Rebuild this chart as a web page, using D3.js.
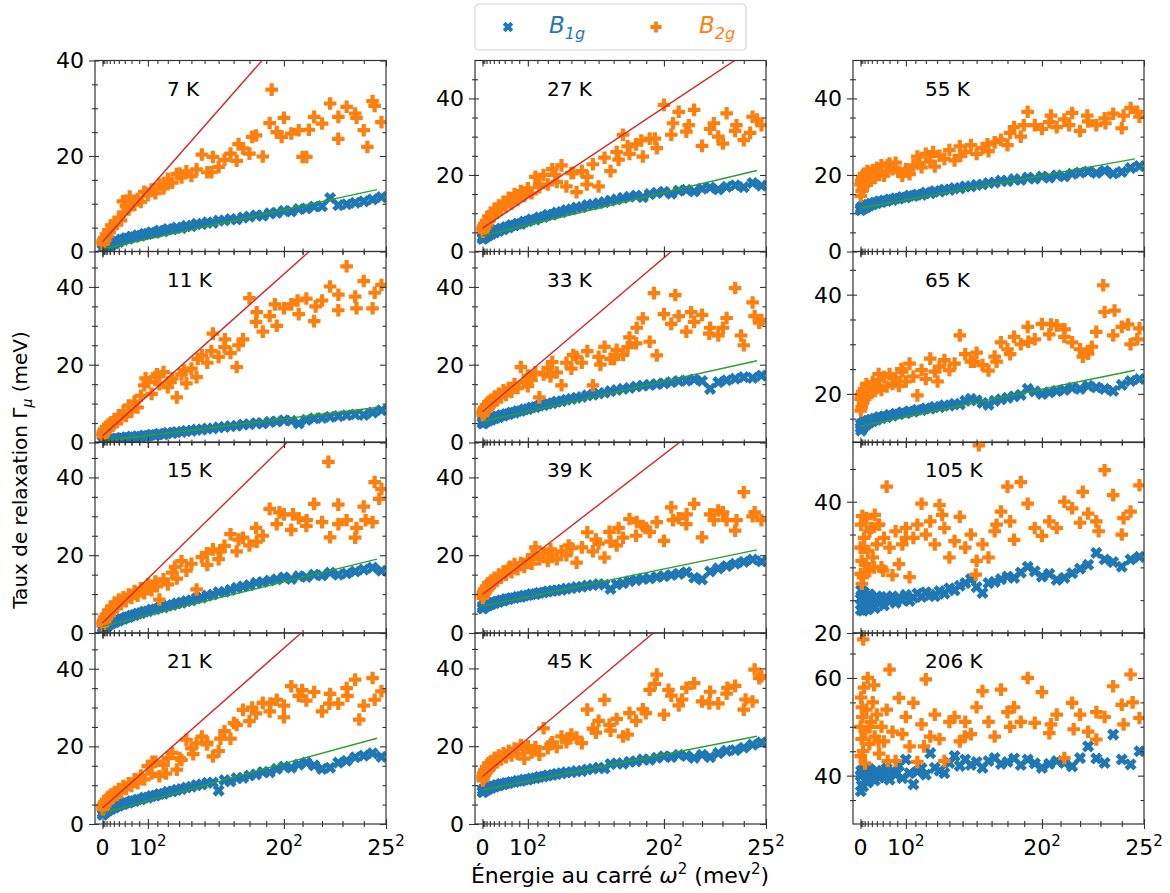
<!DOCTYPE html>
<html><head><meta charset="utf-8">
<script src="https://cdn.jsdelivr.net/npm/d3@7"></script>
<style>body{margin:0;background:#fff}svg{font-family:"DejaVu Sans",sans-serif}</style>
</head><body>
<svg id="chart" width="1170" height="893"></svg>
<script>
// ---------------- DATA ----------------
const omega2 = [0.2,0.6,1.4,2.6,4,5.8,7.8,10.2,13,16,19.4,23,27,31.4,36,41,46.2,51.8,57.8,64,70.6,77.4,84.6,92.2,100,108.2,116.6,125.4,134.6,144,153.8,163.8,174.2,185,196,207.4,219,231,243.4,256,269,282.2,295.8,309.8,324,338.6,353.4,368.6,384.2,400,416.2,432.6,449.4,466.6,484,501.8,519.8,538.2,557,576,595.4,615];

const panelLabels = ["7 K","11 K","15 K","21 K","27 K","33 K","39 K","45 K","55 K","65 K","105 K","206 K"];

const b1g07 = [0.4,0.6,0.3,0.8,0.5,1.0,0.8,1.3,1.1,1.5,1.3,1.8,1.7,2.1,2.0,2.5,2.4,2.8,2.7,3.1,3.0,3.4,3.3,3.7,3.7,4.0,3.9,4.4,4.2,4.7,4.6,5.0,4.9,5.4,5.3,5.8,5.7,6.1,6.0,6.5,6.5,6.8,6.7,7.1,7.3,7.6,7.5,8.0,8.1,8.5,8.4,8.9,9.0,9.4,9.5,11.2,9.7,9.9,10.2,10.5,10.9,11.4];
const b2g07 = [2.0,1.6,2.4,1.8,2.8,2.4,3.6,3.2,4.5,4.0,5.5,5.0,6.2,5.8,7.0,6.5,8.2,9.5,8.8,10.5,9.8,11.0,10.4,12.5,11.8,13.0,12.2,14.0,13.2,15.2,14.4,16.2,15.5,16.8,15.8,17.2,20.3,16.6,19.8,17.7,19.2,20.5,19.0,21.6,20.5,24.3,19.9,26.9,25.0,28.0,24.7,25.4,19.8,28.2,26.8,31.0,23.6,30.3,28.9,25.4,31.5,27.1];
const b2gExtra07 = [[373,33.9],[584,21.9],[441,19.8],[300,22.5],[330,24.0],[395,24.0],[455,25.5],[520,28.2],[560,28.0],[600,30.5],[240,16.6],[170,16.3],[135,13.8],[45,10.5],[60,11.5]];

const b1g11 = [0.3,0.6,0.2,0.5,0.3,0.6,0.4,0.7,0.5,0.8,0.6,0.9,0.8,1.0,0.9,1.2,1.0,1.3,1.2,1.5,1.3,1.6,1.5,1.8,1.7,2.0,1.9,2.2,2.1,2.5,2.4,2.7,2.7,3.0,3.0,3.3,3.3,3.6,3.6,3.9,4.0,4.2,4.3,4.6,4.7,5.0,4.9,5.3,5.4,5.7,5.6,4.9,5.8,6.2,6.3,6.6,6.8,7.0,7.2,7.1,7.7,8.3];
const b2g11 = [2.2,1.6,2.8,2.0,3.4,2.6,4.0,3.2,4.6,3.8,5.2,4.4,6.0,5.2,7.0,6.0,8.0,6.8,9.5,8.0,10.5,9.0,12.0,14.7,15.5,12.5,16.8,15.0,18.1,14.2,16.5,11.6,17.5,15.2,19.0,16.8,22.4,20.5,28.0,22.0,24.5,23.0,19.4,26.5,37.1,31.0,28.5,32.5,30.0,34.5,35.5,33.0,37.0,31.2,36.5,40.1,34.0,45.3,37.5,41.5,34.5,40.5];
const b2gExtra11 = [[95,16.5],[120,17.5],[150,15.5],[180,18.5],[210,21.5],[240,23.5],[270,26.5],[300,25],[340,33.5],[380,35.5],[430,36.5],[470,35],[520,38],[560,34.5],[600,38.5]];

const b1g15 = [0.9,1.5,1.0,1.6,1.2,1.9,1.6,2.2,2.0,2.5,2.4,2.9,2.8,3.2,3.2,3.6,3.6,4.0,4.1,4.5,4.6,5.0,5.1,5.5,5.6,6.0,6.1,6.5,6.6,7.0,7.2,7.6,7.8,8.2,8.4,8.9,9.1,9.6,9.9,10.5,10.6,11.1,11.6,12.0,12.3,12.9,13.1,13.5,13.8,14.3,13.9,14.6,14.4,15.0,14.8,15.5,15.0,15.3,15.8,16.3,16.8,16.0];
const b2g15 = [2.6,2.0,3.2,2.4,4.0,3.0,4.8,3.8,5.8,4.6,6.8,5.6,7.8,6.6,8.6,7.4,9.2,8.2,9.9,9.0,10.8,9.6,11.5,10.2,12.5,11.0,13.2,8.6,13.8,12.5,15.5,14.0,18.5,16.0,17.8,11.2,19.5,17.5,21.5,19.0,22.4,25.4,21.0,24.5,22.5,27.0,25.0,31.9,28.0,30.5,26.5,29.5,27.5,33.2,28.5,24.6,33.0,29.0,24.5,32.5,28.5,37.0];
const b2gExtra15 = [[498,44.0],[600,38.8],[610,34.5],[120,12],[160,17],[230,20.5],[260,21],[300,24],[340,23.5],[390,31],[420,30.5],[450,29],[520,28],[560,27],[580,29]];

const b1g21 = [2.4,2.9,2.5,3.1,2.8,3.4,3.1,3.7,3.5,4.0,3.9,4.4,4.3,4.7,4.7,5.1,5.1,5.5,5.5,5.9,5.9,6.3,6.3,6.8,6.8,7.2,7.3,7.7,7.8,8.3,8.4,8.8,9.0,9.4,9.6,10.0,10.2,10.6,10.7,8.6,11.3,11.0,11.8,11.9,12.5,12.8,13.4,13.3,14.2,14.8,14.5,15.3,15.8,15.1,14.2,14.5,15.8,16.3,17.2,17.6,18.2,17.3];
const b2g21 = [4.5,3.8,5.0,4.2,5.6,4.8,6.2,5.5,7.0,6.2,7.6,6.8,8.2,7.5,9.0,8.2,9.8,9.0,10.5,9.8,11.5,10.5,12.5,11.5,14.9,13.0,16.0,12.3,15.2,17.0,18.3,14.0,16.5,21.7,19.5,20.8,22.5,21.0,17.4,18.8,23.9,22.0,25.5,29.4,26.5,28.5,31.2,29.0,32.0,30.5,35.5,33.0,31.8,34.0,29.0,33.5,31.0,35.0,37.2,30.5,37.6,34.2];
const b2gExtra21 = [[566,26.9],[110,16],[140,13],[170,17],[200,18],[230,20.5],[260,22],[290,26],[330,30],[370,31],[400,27.5],[440,34.5],[500,31],[540,33],[600,32]];

const b1g27 = [3.3,3.8,3.4,4.0,3.6,4.2,3.9,4.5,4.2,4.8,4.6,5.2,5.0,5.6,5.4,6.0,5.8,6.4,6.3,6.9,6.8,7.3,7.2,7.8,7.9,8.4,8.3,8.9,9.0,9.6,9.6,10.2,10.3,10.8,11.0,11.5,11.6,12.1,12.3,12.6,12.9,13.3,13.6,14.0,14.3,14.6,14.2,15.0,15.3,15.6,15.1,15.9,16.1,15.7,16.4,16.7,16.2,16.9,17.3,16.8,17.9,17.2];
const b2g27 = [6.0,5.2,6.6,5.6,7.2,6.2,8.0,7.0,9.2,8.2,10.0,9.0,11.2,10.2,12.0,11.0,13.0,11.8,14.0,12.5,15.0,13.5,15.8,14.5,16.5,15.2,19.5,16.8,20.0,17.5,21.5,18.2,22.5,17.0,20.5,15.5,21.0,19.5,22.8,17.0,24.5,21.0,26.0,30.5,25.5,28.0,24.8,29.5,27.0,38.3,30.5,36.5,31.3,37.0,27.6,32.0,30.0,36.1,31.5,29.1,35.2,33.0];
const b2gExtra27 = [[300,24],[320,27.5],[350,29],[380,29.5],[420,33.5],[455,33],[510,33.5],[530,28.2],[560,33],[590,31],[605,34.5],[200,20.5],[230,17.5],[160,20],[125,17.5]];

const b1g33 = [4.9,5.5,5.0,5.6,5.1,5.7,5.4,5.9,5.6,6.1,5.9,6.4,6.2,6.7,6.5,7.0,6.9,7.3,7.3,7.7,7.7,8.1,8.1,8.5,8.6,9.0,9.1,9.5,9.6,10.0,10.1,10.5,10.6,11.0,11.2,11.5,11.7,12.1,12.3,12.6,12.8,13.2,13.5,13.8,14.0,14.4,14.6,14.8,15.0,15.2,15.5,15.8,15.9,16.2,15.8,13.8,15.5,16.0,16.4,16.8,16.6,17.2];
const b2g33 = [7.8,7.0,8.4,7.4,9.0,8.0,9.6,8.6,10.4,9.4,11.0,10.0,11.8,10.8,12.5,11.6,13.4,12.2,14.0,13.0,15.0,14.0,19.4,15.5,17.2,16.0,18.0,11.6,17.5,19.2,20.7,18.0,14.7,20.5,19.0,22.0,20.5,23.5,14.7,22.0,24.6,21.5,23.8,22.5,27.0,25.5,31.9,25.9,22.4,33.0,30.5,32.5,28.5,31.0,32.8,29.5,27.5,32.0,39.7,25.0,36.0,31.5];
const b2gExtra33 = [[378,38.4],[425,37.9],[600,32.5],[610,30.8],[100,14.5],[150,17],[200,22.5],[260,20],[290,21.5],[320,24.5],[340,29.5],[460,33.5],[500,28],[530,29.5],[570,27.5]];

const b1g39 = [6.3,6.9,6.4,7.0,6.6,7.2,6.9,7.4,7.1,7.6,7.4,7.8,7.7,8.1,8.0,8.4,8.3,8.7,8.7,9.0,9.0,9.3,9.3,9.6,9.7,10.0,10.0,10.3,10.4,10.7,10.8,11.0,11.1,11.4,11.5,11.8,11.9,12.2,12.3,12.6,12.4,11.3,12.5,12.8,13.3,13.6,13.9,14.0,14.4,14.6,14.9,15.2,15.6,14.2,13.8,15.8,16.6,17.2,17.8,18.3,18.9,18.4];
const b2g39 = [9.9,9.0,10.6,9.6,11.2,10.2,12.0,11.0,12.8,11.8,13.5,12.6,14.2,13.4,15.0,14.2,15.8,15.0,16.5,15.6,17.7,16.4,18.0,17.0,18.8,17.8,22.0,19.0,20.5,18.5,20.2,19.0,21.0,20.0,21.8,18.1,22.0,25.9,21.0,23.0,19.4,23.5,22.5,24.5,29.3,25.0,27.5,26.0,28.5,23.7,32.3,29.5,28.0,33.2,24.6,30.5,31.5,29.0,26.3,36.2,30.0,29.0];
const b2gExtra39 = [[60,17],[110,20],[150,21.5],[190,22.5],[250,24],[280,26],[300,27],[340,28.5],[360,27],[420,29],[450,30.5],[510,29],[530,31],[560,29],[600,31]];

const b1g45 = [8.2,8.8,8.3,8.9,8.5,9.1,8.7,9.3,9.0,9.5,9.3,9.7,9.6,10.0,9.9,10.3,10.2,10.5,10.5,10.8,10.8,11.1,11.1,11.4,11.4,11.7,11.8,12.1,12.2,12.5,12.6,12.9,13.0,13.3,13.3,13.6,13.6,14.0,14.2,14.5,14.3,15.4,15.6,15.5,16.0,16.1,16.6,16.5,17.0,17.4,17.2,17.8,17.5,17.0,17.8,17.2,18.2,18.8,19.0,19.6,20.4,21.0];
const b2g45 = [12.2,11.2,13.0,11.8,13.8,12.6,14.6,13.4,15.6,14.2,16.2,15.0,17.0,15.8,17.6,16.6,18.2,17.2,18.8,17.6,19.4,18.0,20.3,16.8,20.0,18.4,19.8,17.8,24.6,19.5,21.0,19.8,22.5,21.0,23.0,22.2,20.8,29.4,24.5,26.5,31.9,24.0,27.0,22.5,28.5,26.5,29.5,34.5,38.4,28.1,33.0,30.5,35.0,36.2,31.5,34.0,31.0,33.5,35.5,29.4,31.5,38.0];
const b2gExtra45 = [[600,39.7],[610,37.5],[90,19.5],[150,20.5],[190,22],[250,23.5],[280,25.5],[320,23],[360,28.5],[380,36],[410,34.5],[440,32],[500,31],[540,35],[580,32]];

const b1g55 = [10.8,11.4,10.9,11.6,11.1,11.8,11.3,12.0,11.6,12.2,12.0,12.5,12.3,12.8,12.6,13.1,12.9,13.3,13.2,13.6,13.5,13.9,13.8,14.2,14.1,14.6,14.5,14.9,14.8,15.4,15.2,15.8,15.6,16.2,16.1,16.6,16.5,17.0,17.0,17.4,17.5,17.9,18.0,18.5,18.4,18.9,18.7,19.3,19.0,19.6,19.3,19.9,19.6,20.3,20.6,20.9,20.5,21.1,20.4,20.8,21.8,22.3];
const b2g55 = [17.5,14.5,18.5,15.8,19.5,16.8,20.3,17.5,19.0,18.2,20.5,18.5,21.2,19.2,21.8,20.0,22.5,19.8,21.0,23.0,21.5,23.2,20.8,19.8,21.5,20.2,22.5,24.8,22.0,25.5,23.5,22.2,25.0,24.2,26.5,23.8,27.5,26.0,27.8,25.5,27.0,26.2,28.5,29.2,27.8,32.5,30.0,36.5,33.0,32.0,33.8,32.5,34.5,36.2,31.5,34.0,33.0,34.8,36.0,32.2,37.5,35.2];
const b2gExtra55 = [[5,16],[15,21],[60,22.5],[130,23],[160,26],[220,25],[280,28],[330,31],[360,33],[420,35.5],[460,33],[500,35.5],[540,33.5],[580,35.5],[610,36.5]];

const b1g65 = [13.2,13.9,12.6,13.8,13.0,14.2,13.5,14.3,13.8,14.6,14.2,14.8,14.5,15.0,14.8,15.3,15.1,15.5,15.3,15.8,15.6,16.0,15.9,16.3,16.1,16.5,16.4,16.8,16.7,17.1,17.0,17.4,17.3,17.7,17.6,18.0,17.9,18.6,19.0,18.7,18.2,17.8,18.6,18.9,19.2,19.5,19.8,21.0,20.5,20.0,20.3,20.6,20.8,21.2,21.0,21.6,21.3,21.0,20.6,21.8,22.6,23.0];
const b2g65 = [19.0,16.6,19.8,17.4,20.4,18.2,21.0,19.0,22.0,19.6,21.5,20.2,22.4,20.6,21.2,22.8,20.8,23.4,21.5,24.0,22.0,23.2,21.6,24.5,22.5,26.1,23.5,19.7,24.8,23.0,27.1,24.5,25.5,26.8,24.8,26.1,31.8,28.0,26.5,28.3,25.8,24.7,27.5,30.4,29.0,31.5,30.0,33.5,31.0,34.1,32.0,33.8,31.5,30.4,29.0,28.1,32.5,36.5,31.8,33.5,30.0,33.2];
const b2gExtra65 = [[535,41.9],[560,36.8],[40,24],[90,25],[170,22.5],[250,26.5],[300,26.5],[330,28],[370,30.5],[420,34],[450,33],[490,27.5],[510,29.5],[590,34],[610,31]];

const b1g105 = [25.2,23.5,26.5,24.2,25.8,23.4,26.2,24.5,25.5,23.6,25.9,24.4,25.2,23.8,25.6,24.6,25.3,24.2,25.5,24.8,25.6,24.6,25.4,25.0,25.8,24.9,25.4,26.0,25.5,26.2,25.8,25.6,26.4,26.0,26.8,26.5,27.2,27.6,28.2,27.0,26.1,27.6,27.8,28.2,28.6,28.4,29.2,30.1,29.4,28.6,29.0,28.1,28.4,29.1,29.8,30.4,32.2,31.2,30.8,30.1,31.2,31.6];
const b2g105 = [33.0,29.0,36.5,31.0,37.8,28.5,34.5,30.5,37.5,32.5,29.5,36.0,31.5,38.0,33.5,36.5,30.0,34.5,42.3,33.0,28.8,35.5,30.5,33.5,36.0,28.5,34.5,36.5,39.7,35.0,37.0,33.5,39.5,36.0,31.5,34.0,37.7,33.0,35.0,31.0,33.5,31.5,35.5,38.5,42.3,34.2,43.0,39.7,36.0,34.8,37.0,36.0,40.0,39.0,36.8,38.2,37.0,44.8,41.0,35.0,38.5,42.5];
const b2gExtra105 = [[261,48.6],[254,28.9],[3,27.5],[20,35.5],[50,29.5],[100,34.5],[180,38.0],[330,37.0],[490,41.5],[525,35.5],[580,37.5],[8,33],[30,30],[40,36.5],[300,36.5]];

const b1g206 = [40.0,36.8,41.0,38.0,40.5,37.8,41.2,39.0,40.2,38.6,41.4,39.4,40.6,39.0,41.0,39.6,40.9,39.8,41.5,39.2,41.0,40.2,42.0,39.5,43.3,40.5,38.2,40.8,41.5,40.2,44.6,41.6,41.0,40.5,42.6,44.0,42.0,43.3,42.2,42.8,41.6,43.0,43.6,42.4,42.8,43.5,42.2,43.3,42.5,41.6,42.4,43.0,42.6,41.9,43.6,46.0,43.5,42.6,48.4,43.3,42.3,45.0];
const b2g206 = [50.0,44.0,56.0,47.5,52.0,45.0,58.0,49.0,53.5,60.0,46.5,51.0,55.0,48.0,52.5,44.5,50.0,47.0,53.5,61.7,49.0,43.0,55.9,48.5,52.0,46.0,54.9,42.8,50.5,59.7,48.0,52.5,47.5,43.0,51.0,52.0,47.0,51.0,48.5,54.0,57.3,51.0,48.0,57.6,53.0,54.0,51.0,60.0,50.8,57.1,48.7,52.5,43.6,54.9,52.5,49.0,47.4,52.0,58.3,54.5,60.7,51.8];
const b2gExtra206 = [[6,67.9],[30,58.5],[10,42.5],[60,43.0],[3,54],[20,50],[40,47],[140,46],[230,48],[330,50],[420,50.5],[470,49.5],[520,53],[580,50.5],[600,55]];

const b1gSeries = [b1g07,b1g11,b1g15,b1g21,b1g27,b1g33,b1g39,b1g45,b1g55,b1g65,b1g105,b1g206];
const b2gSeries = [b2g07,b2g11,b2g15,b2g21,b2g27,b2g33,b2g39,b2g45,b2g55,b2g65,b2g105,b2g206];
const b2gExtras = [b2gExtra07,b2gExtra11,b2gExtra15,b2gExtra21,b2gExtra27,b2gExtra33,b2gExtra39,b2gExtra45,b2gExtra55,b2gExtra65,b2gExtra105,b2gExtra206];

// linear fits  Gamma = a + b * omega^2
const redIntercept = [2.0,1.7,2.6,4.1,6.1,7.9,9.9,12.2,null,null,null,null];
const redSlope     = [0.108,0.104,0.114,0.103,0.0788,0.099,0.090,0.098,null,null,null,null];
const greenIntercept = [0.55,0.4,1.7,2.8,4.1,5.4,6.9,8.75,11.35,13.5,null,null];
const greenSlope     = [0.0205,0.0142,0.0286,0.0319,0.0282,0.0258,0.0239,0.0228,0.02124,0.0186,null,null];
const fitRange = [0, 605];

const yDomainMin = [0,0,0,0,0,0,0,0,0,10.2,20,30.1];
const yDomainMax = [40,49.1,49.1,49.2,49.9,49.1,49.1,49.1,49.9,48.7,49.1,69.2];

const xDomain = [-16.5, 625];
const xMajorTicks = [0,100,400,625];
const xMajorBase = ["0","10","20","25"];
const xMinorTicks = [1,4,9,16,25,36,49,64,81,121,144,169,196,225,256,289,324,361,441,484,529,576];

// ---------------- LAYOUT ----------------
const BLUE="#1f77b4", ORANGE="#ff7f0e", RED="#d62728", GREEN="#2ca02c", AX="#333";
const colLeft=[95,475,853], colW=291;
const rowTop=[60.5,251.5,442,633], rowH=191;

const svg = d3.select("#chart");
const defs = svg.append("defs");

function plusPath(h,w){
  return `M${w},${-h}L${w},${-w}L${h},${-w}L${h},${w}L${w},${w}L${w},${h}L${-w},${h}L${-w},${w}L${-h},${w}L${-h},${-w}L${-w},${-w}L${-w},${-h}Z`;
}
const P_PATH = plusPath(6.3,2.1);
const X_PATH = plusPath(6.3,2.3);

panelLabels.forEach((label,i)=>{
  const col=Math.floor(i/4), row=i%4;
  const x0=colLeft[col], y0=rowTop[row];
  const x=d3.scaleLinear().domain(xDomain).range([x0,x0+colW]);
  const y=d3.scaleLinear().domain([yDomainMin[i],yDomainMax[i]]).range([y0+rowH,y0]);

  defs.append("clipPath").attr("id","clip"+i).append("rect")
    .attr("x",x0).attr("y",y0).attr("width",colW).attr("height",rowH);

  const g=svg.append("g");
  const plot=g.append("g").attr("clip-path",`url(#clip${i})`);

  const blueData=omega2.map((w,j)=>[w,b1gSeries[i][j]]);
  plot.append("g").selectAll("path").data(blueData).enter().append("path")
    .attr("d",X_PATH).attr("fill",BLUE)
    .attr("transform",d=>`translate(${x(d[0])},${y(d[1])}) rotate(45)`);

  const orangeData=omega2.map((w,j)=>[w,b2gSeries[i][j]]).concat(b2gExtras[i]);
  plot.append("g").selectAll("path").data(orangeData).enter().append("path")
    .attr("d",P_PATH).attr("fill",ORANGE)
    .attr("transform",d=>`translate(${x(d[0])},${y(d[1])})`);

  const line=d3.line().x(d=>x(d[0])).y(d=>y(d[1]));
  if(greenIntercept[i]!==null){
    plot.append("path").attr("d",line(fitRange.map(w=>[w,greenIntercept[i]+greenSlope[i]*w])))
      .attr("stroke",GREEN).attr("stroke-width",1.4).attr("fill","none");
  }
  if(redIntercept[i]!==null){
    plot.append("path").attr("d",line(fitRange.map(w=>[w,redIntercept[i]+redSlope[i]*w])))
      .attr("stroke",RED).attr("stroke-width",1.4).attr("fill","none");
  }

  // y ticks
  const yMaj=[], yMin=[];
  for(let v=Math.ceil(yDomainMin[i]/5)*5; v<=yDomainMax[i]+1e-9; v+=5){
    if(v%20===0) yMaj.push(v); else yMin.push(v);
  }
  const axes=g.append("g");
  function addAxis(axisFn, scale, vals, size, tx, ty){
    const a=axes.append("g").attr("transform",`translate(${tx},${ty})`)
      .call(axisFn(scale).tickValues(vals).tickSize(size).tickFormat(""));
    a.select(".domain").remove();
    a.selectAll("line").attr("stroke",AX).attr("stroke-width",1.1);
  }
  const xb=y0+rowH, xr=x0+colW;
  addAxis(d3.axisBottom,x,xMajorTicks,5,0,xb);
  addAxis(d3.axisBottom,x,xMajorTicks,-5,0,xb);
  addAxis(d3.axisBottom,x,xMinorTicks,3,0,xb);
  addAxis(d3.axisBottom,x,xMinorTicks,-3,0,xb);
  addAxis(d3.axisTop,x,xMajorTicks,-6,0,y0);
  addAxis(d3.axisTop,x,xMinorTicks,-3.5,0,y0);
  addAxis(d3.axisLeft,y,yMaj,6,x0,0);
  addAxis(d3.axisLeft,y,yMaj,-4,x0,0);
  addAxis(d3.axisLeft,y,yMin,3,x0,0);
  addAxis(d3.axisLeft,y,yMin,-3,x0,0);
  addAxis(d3.axisRight,y,yMaj,-6,xr,0);
  addAxis(d3.axisRight,y,yMin,-3.5,xr,0);

  g.append("rect").attr("x",x0).attr("y",y0).attr("width",colW).attr("height",rowH)
    .attr("fill","none").attr("stroke",AX).attr("stroke-width",1.2);

  // y tick labels
  g.append("g").selectAll("text").data(yMaj).enter().append("text")
    .attr("x",x0-11).attr("y",d=>y(d)).attr("dy","0.36em")
    .attr("text-anchor","end").attr("font-size",22).attr("fill","#000").text(d=>d);

  // x tick labels on bottom row
  if(row===3){
    xMajorTicks.forEach((v,k)=>{
      const t=g.append("text").attr("x",x(v)).attr("y",xb+31)
        .attr("text-anchor","middle").attr("font-size",22).attr("fill","#000");
      t.append("tspan").text(xMajorBase[k]);
      if(k>0) t.append("tspan").attr("dy",-9).attr("font-size",15).text("2");
    });
  }

  // panel label
  g.append("text").attr("x",x0+72).attr("y",y0+35).attr("font-size",20).attr("fill","#000").text(label);
});

// axis titles
const xt=svg.append("text").attr("x",620).attr("y",883).attr("text-anchor","middle").attr("font-size",22).attr("fill","#000");
xt.append("tspan").text("Énergie au carré ");
xt.append("tspan").attr("font-style","italic").text("ω");
xt.append("tspan").attr("dy",-9).attr("font-size",15).text("2");
xt.append("tspan").attr("dy",9).text(" (mev");
xt.append("tspan").attr("dy",-9).attr("font-size",15).text("2");
xt.append("tspan").attr("dy",9).text(")");

const yt=svg.append("text").attr("transform","translate(27,470) rotate(-90)").attr("text-anchor","middle").attr("font-size",20).attr("fill","#000");
yt.append("tspan").text("Taux de relaxation Γ");
yt.append("tspan").attr("dy",5).attr("font-size",14).attr("font-style","italic").text("μ");
yt.append("tspan").attr("dy",-5).text(" (meV)");

// legend
const lg=svg.append("g");
lg.append("rect").attr("x",475).attr("y",4).attr("width",271).attr("height",46).attr("rx",4)
  .attr("fill","#fff").attr("stroke","#d6d6d6").attr("stroke-width",1.2);
lg.append("path").attr("d",plusPath(5.4,2.0)).attr("fill",BLUE).attr("transform","translate(508,27) rotate(45)");
lg.append("path").attr("d",plusPath(5.6,1.9)).attr("fill",ORANGE).attr("transform","translate(656,27)");
const l1=lg.append("text").attr("x",549).attr("y",33).attr("font-size",23).attr("fill",BLUE);
l1.append("tspan").attr("font-style","italic").text("B");
l1.append("tspan").attr("dy",6).attr("font-size",16).attr("font-style","italic").text("1g");
const l2=lg.append("text").attr("x",699).attr("y",33).attr("font-size",23).attr("fill",ORANGE);
l2.append("tspan").attr("font-style","italic").text("B");
l2.append("tspan").attr("dy",6).attr("font-size",16).attr("font-style","italic").text("2g");
</script>
</body></html>
